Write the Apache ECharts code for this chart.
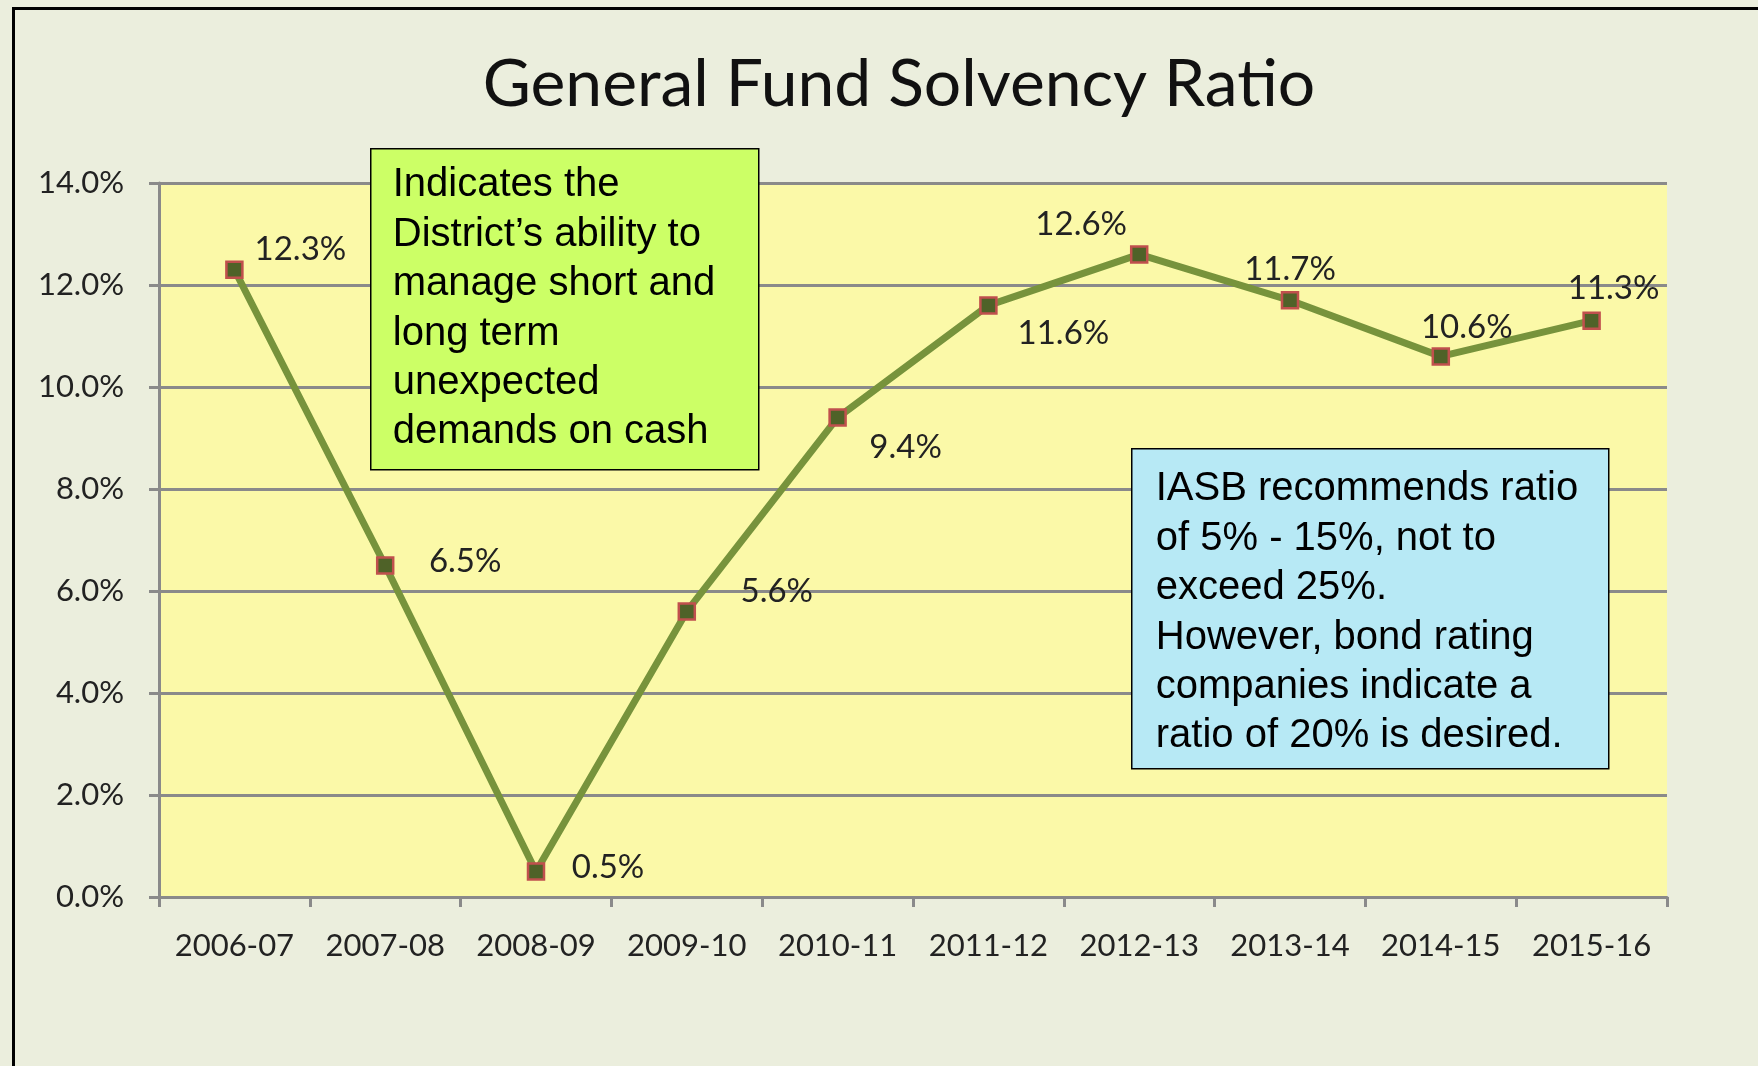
<!DOCTYPE html>
<html>
<head>
<meta charset="utf-8">
<script src="https://cdn.jsdelivr.net/npm/echarts@6/dist/echarts.min.js"></script>
<style>
  html, body { margin: 0; padding: 0; background: #ebeedd; }
  #main { width: 1758px; height: 1066px; }
</style>
</head>
<body>
<div id="main"></div>
<script>
var years = ['2006-07', '2007-08', '2008-09', '2009-10', '2010-11',
             '2011-12', '2012-13', '2013-14', '2014-15', '2015-16'];
var ratio = [12.3, 6.5, 0.5, 5.6, 9.4, 11.6, 12.6, 11.7, 10.6, 11.3];
var yTicks = [0, 2, 4, 6, 8, 10, 12, 14];

var noteLeft = ['Indicates the', 'District\u2019s ability to', 'manage short and',
                'long term', 'unexpected', 'demands on cash'];
var noteRight = ['IASB recommends ratio', 'of 5% - 15%, not to', 'exceed 25%.',
                 'However, bond rating', 'companies indicate a', 'ratio of 20% is desired.'];

// where each value label sits relative to its point
var labelShift = [[66, -20], [80, -4], [72, -4], [90, -20], [68, 30],
                  [75, 28], [-58, -30], [0, -31], [26, -29], [22, -32]];

var myChart = echarts.init(document.getElementById('main'));

var seriesData = ratio.map(function (v, i) {
    return {
        value: v,
        label: { offset: labelShift[i] }
    };
});

function noteBox(x, y, w, h, fill, lines, pad) {
    return {
        type: 'group',
        left: x, top: y,
        children: [
            {
                type: 'rect',
                z: 100,
                shape: { width: w, height: h },
                style: { fill: fill, stroke: '#000', lineWidth: 1.5 }
            },
            {
                type: 'text',
                z: 101,
                left: pad[0], top: pad[1],
                style: {
                    text: lines.join('\n'),
                    fontFamily: 'Liberation Sans',
                    fontSize: 40,
                    lineHeight: 49.4,
                    fill: '#000'
                }
            }
        ]
    };
}

var option = {
    backgroundColor: '#ebeedd',
    animation: false,
    title: {
        text: 'General Fund Solvency Ratio',
        left: 894,
        textAlign: 'center',
        top: 47,
        textStyle: {
            fontFamily: 'Lato',
            fontWeight: 'normal',
            fontSize: 66,
            color: '#111'
        }
    },
    grid: {
        left: 159,
        right: 91,
        top: 183,
        bottom: 169,
        show: true,
        backgroundColor: '#fbf9a8',
        borderWidth: 0
    },
    xAxis: {
        type: 'category',
        data: years,
        boundaryGap: true,
        axisLine: { lineStyle: { color: '#8a8a8a', width: 3 } },
        axisTick: { show: true, interval: 0, length: 10, lineStyle: { color: '#8a8a8a', width: 3 } },
        axisLabel: {
            interval: 0,
            hideOverlap: false,
            fontFamily: 'Lato',
            fontSize: 31,
            color: '#222',
            margin: 33
        }
    },
    yAxis: {
        type: 'value',
        min: yTicks[0],
        max: yTicks[yTicks.length - 1],
        interval: 2,
        axisLine: { show: true, lineStyle: { color: '#8a8a8a', width: 3 } },
        axisTick: { show: true, length: 10, lineStyle: { color: '#8a8a8a', width: 3 } },
        splitLine: { lineStyle: { color: '#8a8a8a', width: 3 } },
        axisLabel: {
            fontFamily: 'Lato',
            fontSize: 31,
            color: '#222',
            margin: 35,
            formatter: function (v) { return v.toFixed(1) + '%'; }
        }
    },
    series: [{
        type: 'line',
        data: seriesData,
        symbol: 'rect',
        symbolSize: 16,
        lineStyle: { color: '#77933c', width: 7 },
        itemStyle: { color: '#4f6228', borderColor: '#c0504d', borderWidth: 2.5 },
        label: {
            show: true,
            position: 'inside',
            align: 'center',
            verticalAlign: 'middle',
            fontFamily: 'Lato',
            fontSize: 33,
            color: '#222',
            formatter: function (p) { return p.value.toFixed(1) + '%'; }
        },
        z: 5
    }],
    graphic: [
        {
            type: 'rect',
            left: 11, top: 6,
            z: 100,
            shape: { width: 1800, height: 1100 },
            style: { fill: 'none', stroke: '#000', lineWidth: 3 },
            silent: true
        },
        noteBox(370, 148, 388, 321, '#ccff66', noteLeft, [22, 12]),
        noteBox(1131, 448, 477, 320, '#b7e9f5', noteRight, [24, 16])
    ]
};

myChart.setOption(option);
</script>
</body>
</html>
